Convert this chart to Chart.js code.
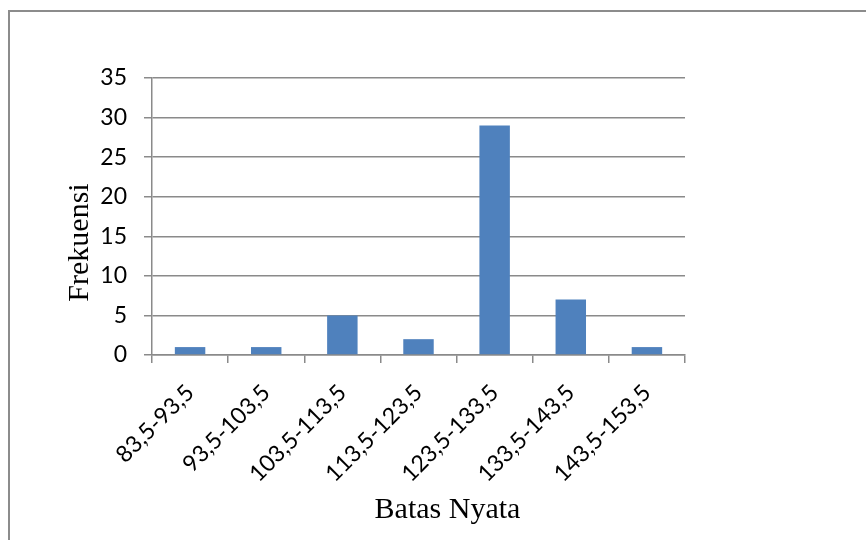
<!DOCTYPE html>
<html>
<head>
<meta charset="utf-8">
<script src="https://cdn.jsdelivr.net/npm/chart.js@4/dist/chart.umd.min.js"></script>
<style>
  html, body { margin: 0; padding: 0; background: #ffffff; }
  #wrap { width: 866px; height: 540px; position: relative; }
</style>
</head>
<body>
<div id="wrap"><canvas id="chart" width="866" height="540"></canvas></div>
<script>
// Class intervals (real limits) and their frequencies
const categories = ['83,5-93,5', '93,5-103,5', '103,5-113,5', '113,5-123,5', '123,5-133,5', '133,5-143,5', '143,5-153,5'];
const frekuensi = [1, 1, 5, 2, 29, 7, 1];

// Value axis range
const yMin = 0;
const yMax = 35;
const yStep = 5;

// Axis titles
const xTitle = 'Batas Nyata';
const yTitle = 'Frekuensi';

const gridColor = '#8a8a8a';
const tickFont = { family: 'Lato', size: 23 };
const titleFont = '30px "Liberation Serif"';

// Frame line along the top and left edges, plus the two axis titles
const decorations = {
  id: 'decorations',
  beforeDraw(chart) {
    const ctx = chart.ctx;
    ctx.save();
    ctx.fillStyle = '#ffffff';
    ctx.fillRect(0, 0, chart.width, chart.height);
    ctx.strokeStyle = '#8c8c8c';
    ctx.lineWidth = 2;
    ctx.beginPath();
    ctx.moveTo(9, chart.height);
    ctx.lineTo(9, 11);
    ctx.lineTo(chart.width, 11);
    ctx.stroke();
    ctx.restore();
  },
  afterDraw(chart) {
    const ctx = chart.ctx;
    ctx.save();
    ctx.fillStyle = '#000000';
    ctx.font = titleFont;
    ctx.textAlign = 'center';
    ctx.textBaseline = 'alphabetic';
    ctx.fillText(xTitle, 447.5, 518);
    ctx.translate(88, 242.5);
    ctx.rotate(-Math.PI / 2);
    ctx.fillText(yTitle, 0, 0);
    ctx.restore();
  }
};

new Chart(document.getElementById('chart'), {
  type: 'bar',
  data: {
    labels: categories,
    datasets: [{
      label: yTitle,
      data: frekuensi,
      backgroundColor: '#4f81bd',
      borderWidth: 0,
      categoryPercentage: 1.0,
      barPercentage: 0.4
    }]
  },
  options: {
    responsive: false,
    animation: false,
    devicePixelRatio: 1,
    layout: { padding: { left: 0, top: 78, right: 181, bottom: 0 } },
    plugins: {
      legend: { display: false },
      tooltip: { enabled: false }
    },
    scales: {
      x: {
        offset: true,
        grid: {
          display: true,
          offset: true,
          drawOnChartArea: false,
          drawTicks: true,
          tickLength: 8,
          color: gridColor,
          lineWidth: 1.5
        },
        border: { display: true, color: gridColor, width: 1.5 },
        ticks: {
          color: '#000000',
          font: tickFont,
          minRotation: 45,
          maxRotation: 45,
          autoSkip: false,
          padding: 16
        },
        afterFit(scale) { scale.height = 185; }
      },
      y: {
        min: yMin,
        max: yMax,
        grid: {
          display: true,
          drawOnChartArea: true,
          drawTicks: true,
          tickLength: 8,
          color: gridColor,
          lineWidth: 1.5
        },
        border: { display: true, color: gridColor, width: 1.5 },
        ticks: {
          stepSize: yStep,
          color: '#000000',
          font: tickFont,
          padding: 17
        },
        afterFit(scale) { scale.width = 152; }
      }
    }
  },
  plugins: [decorations]
});
</script>
</body>
</html>
